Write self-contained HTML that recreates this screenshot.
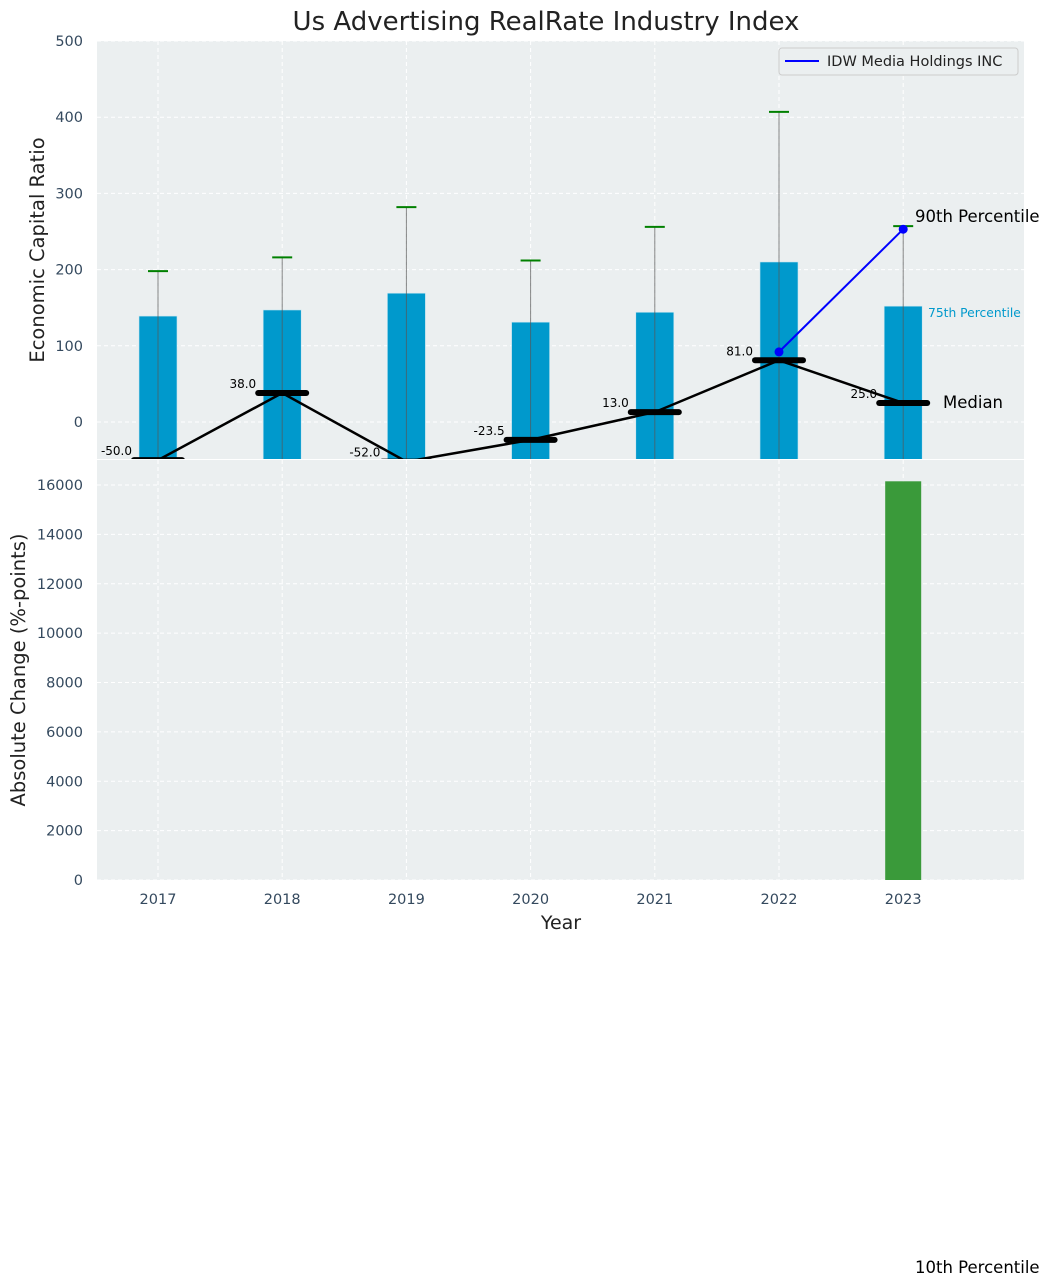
<!DOCTYPE html>
<html><head><meta charset="utf-8"><style>
body{margin:0;background:#fff}
svg{font-family:"DejaVu Sans","Liberation Sans",sans-serif;display:block}
</style></head><body>
<svg id="chart" width="1050" height="1287" viewBox="0 0 1050 1287">
<defs>
<clipPath id="c1"><rect x="97" y="41" width="927" height="418"/></clipPath>
<clipPath id="c2"><rect x="97" y="460" width="927" height="420"/></clipPath>
</defs>
<rect x="97" y="41" width="927" height="418" fill="#ebeff0"/>
<rect x="97" y="460" width="927" height="420" fill="#ebeff0"/>
<g id="grid"></g>
<g id="top" clip-path="url(#c1)"></g>
<g id="bot" clip-path="url(#c2)"></g>
<g id="labels"></g>
<text x="546" y="30" font-size="26" text-anchor="middle" fill="#222">Us Advertising RealRate Industry Index</text>
<text transform="translate(44,250) rotate(-90)" font-size="19.5" text-anchor="middle" fill="#222">Economic Capital Ratio</text>
<text transform="translate(25,670) rotate(-90)" font-size="19.5" text-anchor="middle" fill="#222">Absolute Change (%-points)</text>
<text x="561" y="929" font-size="19" text-anchor="middle" fill="#222">Year</text>
<g>
<rect x="779" y="48" width="239" height="27" rx="3" fill="#ebeff0" stroke="#ccc"/>
<line x1="785" y1="61" x2="819" y2="61" stroke="#0000ff" stroke-width="2"/>
<text x="827" y="66" font-size="14.5" fill="#222">IDW Media Holdings INC</text>
</g>
<text x="915" y="222" font-size="16.5" fill="#000">90th Percentile</text>
<text x="928" y="317" font-size="12.3" fill="#0099cc">75th Percentile</text>
<text x="943" y="408" font-size="16.5" fill="#000">Median</text>
<text x="915" y="1273" font-size="16.5" fill="#000">10th Percentile</text>
</svg>
<script>
const years=[2017,2018,2019,2020,2021,2022,2023];
const p75=[139,147,169,131,144,210,152];
const p90=[198,216,282,212,256,407,257];
const p10=[-200,-200,-200,-200,-200,-200,-200];
const medians=[-50,38,-52,-23.5,13,81,25];
const idwYears=[2022,2023];
const idwVals=[92,253];
const changeVals=[0,0,0,0,0,0,16150];
const topTicks=[0,100,200,300,400,500];
const botTicks=[0,2000,4000,6000,8000,10000,12000,14000,16000];

const NS="http://www.w3.org/2000/svg";
const x=i=>158+i*124.2;
const yT=v=>422-v*0.762;
const yB=v=>880-v*(395/16000);
function mk(parent,tag,attrs){const e=document.createElementNS(NS,tag);for(const k in attrs)e.setAttribute(k,attrs[k]);document.getElementById(parent).appendChild(e);return e;}

topTicks.forEach(t=>{
 let l=mk('grid','line',{x1:97,x2:1024,y1:yT(t),y2:yT(t),stroke:'#fff','stroke-dasharray':'4,3','stroke-width':1});
 
 
 let tx=mk('labels','text',{x:83,y:yT(t)+5,'font-size':14.5,'text-anchor':'end',fill:'#34495e'});
 tx.textContent=t;
 
 
});
botTicks.forEach(t=>{
 let l=mk('grid','line',{x1:97,x2:1024,y1:yB(t),y2:yB(t),stroke:'#fff','stroke-dasharray':'4,3','stroke-width':1});
 
 
 let tx=mk('labels','text',{x:83,y:yB(t)+5,'font-size':14.5,'text-anchor':'end',fill:'#34495e'});
 tx.textContent=t;
 
 
});
years.forEach((yr,i)=>{
 [[41,459],[460,880]].forEach(r=>{
  let l=mk('grid','line',{x1:x(i),x2:x(i),y1:r[0],y2:r[1],stroke:'#fff','stroke-dasharray':'4,3','stroke-width':1});
  
  
 });
 let tx=mk('labels','text',{x:x(i),y:904,'font-size':14.5,'text-anchor':'middle',fill:'#34495e'});
 tx.textContent=yr;
 
 
});
years.forEach((yr,i)=>{
 let b=mk('top','rect',{x:x(i)-19,y:yT(p75[i]),width:38,height:yT(p10[i])-yT(p75[i]),fill:'#0099cc',stroke:'#c8e6f0','stroke-width':0.6});
 
 
 let w=mk('top','line',{x1:x(i),x2:x(i),y1:yT(p90[i]),y2:yT(p10[i]),stroke:'#555','stroke-opacity':0.7,'stroke-width':1});
 
 
 let c=mk('top','line',{x1:x(i)-10,x2:x(i)+10,y1:yT(p90[i]),y2:yT(p90[i]),stroke:'#008000','stroke-width':2});
 
 
});
let pts=medians.map((m,i)=>x(i)+','+yT(m)).join(' ');
let ml=mk('top','polyline',{points:pts,fill:'none',stroke:'#000','stroke-width':2.5});


medians.forEach((m,i)=>{
 let c=mk('top','line',{x1:x(i)-24,x2:x(i)+24,y1:yT(m),y2:yT(m),stroke:'#000','stroke-width':6,'stroke-linecap':'round'});
 
 
 let t=mk('top','text',{x:x(i)-26,y:yT(m)-5,'font-size':12,'text-anchor':'end',fill:'#000'});
 t.textContent=m.toFixed(1);
 
 
});
const ix=idwYears.map(yr=>years.indexOf(yr));
let il=mk('top','polyline',{points:ix.map((k,j)=>x(k)+','+yT(idwVals[j])).join(' '),fill:'none',stroke:'#0000ff','stroke-width':2});


ix.forEach((k,j)=>{
 let p=mk('top','circle',{cx:x(k),cy:yT(idwVals[j]),r:4.5,fill:'#0000ff'});
 
 
});
changeVals.forEach((v,i)=>{
 if(!v)return;
 let b=mk('bot','rect',{x:x(i)-18,y:yB(v),width:36,height:yB(0)-yB(v),fill:'#3a9a3a'});
 
 
});
</script>
</body></html>
